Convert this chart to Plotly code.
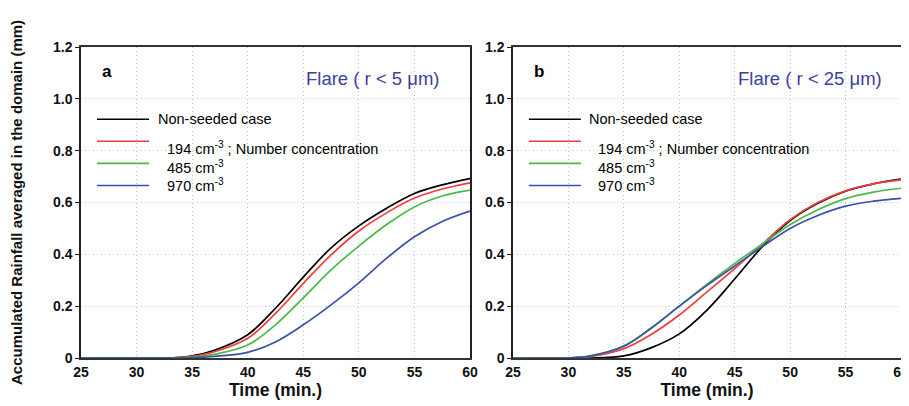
import plotly.graph_objects as go
from plotly.subplots import make_subplots

# ---------------- data ----------------
time_a = [25, 30, 33, 35, 37, 40, 42.5, 45, 47.5, 50, 52.5, 55, 57.5, 60]
nonseeded_a = [0, 0, 0, 0.008, 0.030, 0.090, 0.192, 0.312, 0.425, 0.510, 0.578, 0.635, 0.668, 0.692]
n194_a = [0, 0, 0, 0.006, 0.024, 0.076, 0.172, 0.288, 0.398, 0.490, 0.560, 0.617, 0.652, 0.676]
n485_a = [0, 0, 0, 0.003, 0.014, 0.050, 0.128, 0.232, 0.340, 0.432, 0.515, 0.583, 0.625, 0.648]
n970_a = [0, 0, 0, 0.001, 0.006, 0.022, 0.062, 0.128, 0.205, 0.290, 0.385, 0.468, 0.527, 0.567]

time_b = [25, 30, 32, 35, 37.5, 40, 42.5, 45, 47.5, 50, 52.5, 55, 57.5, 60]
nonseeded_b = [0, 0, 0, 0.008, 0.040, 0.093, 0.185, 0.305, 0.430, 0.530, 0.597, 0.644, 0.672, 0.690]
n194_b = [0, 0, 0.006, 0.036, 0.092, 0.166, 0.255, 0.345, 0.440, 0.534, 0.600, 0.645, 0.672, 0.687]
n485_b = [0, 0, 0.008, 0.045, 0.115, 0.200, 0.285, 0.365, 0.440, 0.515, 0.572, 0.615, 0.640, 0.655]
n970_b = [0, 0, 0.008, 0.046, 0.117, 0.200, 0.280, 0.355, 0.430, 0.500, 0.550, 0.586, 0.605, 0.616]

x_ticks = [25, 30, 35, 40, 45, 50, 55, 60]
y_ticks = [0, 0.2, 0.4, 0.6, 0.8, 1.0, 1.2]
y_tick_labels = ["0", "0.2", "0.4", "0.6", "0.8", "1.0", "1.2"]

series_names = ["Non-seeded case", "194 cm<sup>-3</sup> ; Number concentration",
                "485 cm<sup>-3</sup>", "970 cm<sup>-3</sup>"]
panel_labels = ["a", "b"]
panel_titles = ["Flare ( r < 5 \u03bcm)", "Flare ( r < 25 \u03bcm)"]

colors = ["#000000", "#f03c3c", "#4cb848", "#3a52a6"]

# ---------------- figure ----------------
fig = make_subplots(rows=1, cols=2, horizontal_spacing=0.0527)
fig.update_layout(xaxis=dict(domain=[0, 0.4744]), xaxis2=dict(domain=[0.5268, 1]))

panels = [
    (time_a, [nonseeded_a, n194_a, n485_a, n970_a]),
    (time_b, [nonseeded_b, n194_b, n485_b, n970_b]),
]
for col, (tx, ys) in enumerate(panels, start=1):
    for name, yv, c in zip(series_names, ys, colors):
        fig.add_trace(go.Scatter(x=tx, y=yv, mode="lines", name=name,
                                 line=dict(color=c, width=1.7, shape="spline", smoothing=1.0),
                                 showlegend=False), row=1, col=col)

font_txt = "Liberation Sans, Arial, sans-serif"
fig.update_xaxes(range=[25, 60], tickvals=x_ticks, ticks="", showline=True, linecolor="#333",
                 linewidth=1.6, mirror=True, showgrid=True, gridcolor="#c4c4c4",
                 griddash="1px,3px", gridwidth=1, zeroline=False, automargin=False,
                 tickfont=dict(family=font_txt, size=14, color="#111", weight="bold"),
                 title=dict(text="<b>Time (min.)</b>",
                            font=dict(family=font_txt, size=17.5, color="#111"),
                            standoff=1))
fig.update_yaxes(range=[0, 1.2], tickvals=y_ticks, ticktext=y_tick_labels, ticks="outside",
                 ticklen=4, tickcolor="#222", showline=True, linecolor="#222", linewidth=1.5,
                 mirror=True, showgrid=True, gridcolor="#c4c4c4", griddash="1px,3px", gridwidth=1,
                 zeroline=False, automargin=False,
                 tickfont=dict(family=font_txt, size=14, color="#111", weight="bold"))
fig.update_yaxes(title=dict(text="<b>Accumulated Rainfall averaged in the domain (mm)</b>",
                            font=dict(family=font_txt, size=15, color="#111"),
                            standoff=27), row=1, col=1)

legend_y_line = [1.2 - (119 - 47) / 258.3, 1.2 - (141 - 47) / 258.3,
                 1.2 - (163 - 47) / 258.3, 1.2 - (185 - 47) / 258.3]
legend_y_text = [1.2 - (119 - 47) / 258.3, 1.2 - (148 - 47) / 258.3,
                 1.2 - (167 - 47) / 258.3, 1.2 - (185 - 47) / 258.3]
text_x_off = [0, 9, 9, 9]
title_x = [0.928, 0.956]

for i in range(2):
    dom = "x domain" if i == 0 else "x2 domain"
    yr = "y" if i == 0 else "y2"
    fig.add_annotation(x=0.066, y=1.2 - (71 - 47) / 258.3, xref=dom, yref=yr,
                       text="<b>" + panel_labels[i] + "</b>",
                       showarrow=False, xanchor="center", yanchor="middle",
                       font=dict(family=font_txt, size=17, color="#000"))
    fig.add_annotation(x=title_x[i], y=1.2 - (78 - 47) / 258.3, xref=dom, yref=yr,
                       text=panel_titles[i], showarrow=False, xanchor="right", yanchor="middle",
                       font=dict(family=font_txt, size=18.5, color="#3c3f9c"))
    for k in range(4):
        fig.add_shape(type="line", xref=dom, yref=yr, x0=0.041, x1=0.175,
                      y0=legend_y_line[k], y1=legend_y_line[k],
                      line=dict(color=colors[k], width=1.6))
        fig.add_annotation(x=0.192 + text_x_off[k] / 389.0, y=legend_y_text[k], xref=dom, yref=yr,
                           text=series_names[k], showarrow=False, xanchor="left", yanchor="middle",
                           font=dict(family=font_txt, size=14.5, color="#000"))

# the page adds an 8px body margin, so the figure is 8px smaller and margins shifted
fig.update_layout(width=901, height=398, margin=dict(l=73, r=8, t=39, b=48),
                  plot_bgcolor="white", paper_bgcolor="white")

fig.write_html("out.html")
